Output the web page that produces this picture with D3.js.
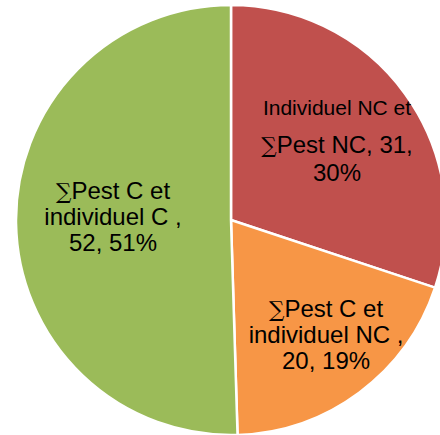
<!DOCTYPE html>
<html>
<head>
<meta charset="utf-8">
<script src="https://cdn.jsdelivr.net/npm/d3@7"></script>
<style>
  html, body { margin: 0; padding: 0; background: #fff; }
  svg { display: block; }
</style>
</head>
<body>
<svg id="chart" width="440" height="435"></svg>
<script>
// ---- data ----
const categories = ["Individuel NC et \u2211Pest NC", "\u2211Pest C et individuel NC ", "\u2211Pest C et individuel C "];
const values = [31, 20, 52];
const percents = [30, 19, 51];
const colors = ["#C0504D", "#F79646", "#9BBB59"];

// ---- layout ----
const cx = 231, cy = 220, R = 215;
const labelRadii = [132, 149, 118];
const labelNudge = [[-1, 0], [6, 0], [0, 0]];
const firstBaselineOffset = [-28, -22, -23];

const svg = d3.select("#chart");
const g = svg.append("g").attr("transform", `translate(${cx},${cy})`);

const pie = d3.pie().sort(null).value(d => d.value);
const data = pie(categories.map((c, i) => ({ name: c, value: values[i], pct: percents[i], color: colors[i] })));

const arc = d3.arc().innerRadius(0).outerRadius(R);

g.selectAll("path.slice")
  .data(data)
  .enter().append("path")
  .attr("class", "slice")
  .attr("d", arc)
  .attr("fill", d => d.data.color)
  .attr("stroke", "#fff")
  .attr("stroke-width", 2.5)
  .attr("stroke-linejoin", "miter");

function labelLines(d, i) {
  const parts = d.data.name.split(" et ");
  if (i === 0) {
    return [
      { t: parts[0] + " et", size: 21, dy: 0 },
      { t: parts[1] + ", " + d.data.value + ",", size: 24, dy: 38 },
      { t: d.data.pct + "%", size: 24, dy: 66 }
    ];
  }
  return [
    { t: parts[0] + " et", size: 24, dy: 0 },
    { t: parts[1] + ",", size: 24, dy: 26 },
    { t: d.data.value + ", " + d.data.pct + "%", size: 24, dy: 52 }
  ];
}

data.forEach((d, i) => {
  const c = d3.arc().innerRadius(labelRadii[i]).outerRadius(labelRadii[i]).centroid(d);
  const x = c[0] + labelNudge[i][0], y0 = c[1] + labelNudge[i][1] + firstBaselineOffset[i];
  const txt = g.append("text")
    .attr("text-anchor", "middle")
    .attr("font-family", "'Liberation Sans', Arial, sans-serif")
    .attr("fill", "#000");
  labelLines(d, i).forEach(l => {
    const line = txt.append("tspan")
      .attr("x", x)
      .attr("y", y0 + l.dy)
      .attr("font-size", l.size + "px");
    l.t.split(/(\u2211)/).forEach(s => {
      if (!s) return;
      if (s === "\u2211") {
        line.append("tspan")
          .attr("font-family", "'DejaVu Serif', 'Liberation Serif', serif")
          .attr("font-size", (l.size * 0.9) + "px")
          .text(s);
      } else {
        line.append("tspan").text(s);
      }
    });
  });
});
</script>
</body>
</html>
